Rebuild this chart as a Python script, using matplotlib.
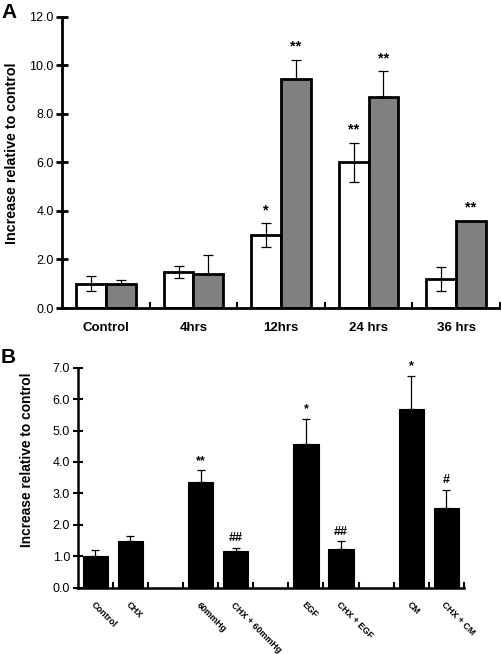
import matplotlib
matplotlib.use("Agg")
import matplotlib.pyplot as plt
import matplotlib.transforms as mtransforms
import numpy as np

plt.rcParams['font.family'] = ['Liberation Sans', 'DejaVu Sans']

# Panel A data
a_categories = ["Control", "4hrs", "12hrs", "24 hrs", "36 hrs"]
a_white = [1.0, 1.5, 3.0, 6.0, 1.2]
a_white_err = [0.3, 0.25, 0.5, 0.8, 0.5]
a_gray = [1.0, 1.4, 9.45, 8.7, 3.6]
a_gray_err = [0.15, 0.78, 0.77, 1.05, 0.0]
a_white_sig = ["", "", "*", "**", ""]
a_gray_sig = ["", "", "**", "**", "**"]
a_yticks = [0, 2, 4, 6, 8, 10, 12]

# Panel B data
b_categories = ["Control", "CHX", "60mmHg", "CHX + 60mmHg", "EGF", "CHX + EGF", "CM", "CHX + CM"]
b_values = [1.02, 1.47, 3.36, 1.17, 4.56, 1.22, 5.69, 2.55]
b_err = [0.18, 0.18, 0.37, 0.09, 0.82, 0.25, 1.05, 0.57]
b_sig = ["", "", "**", "##", "*", "##", "*", "#"]
b_slots = [0, 1, 3, 4, 6, 7, 9, 10]
b_yticks = [0, 1, 2, 3, 4, 5, 6, 7]

fig = plt.figure(figsize=(5.02, 6.54), dpi=100)

# ---------- Panel A ----------
axA = fig.add_axes([0.1235, 0.529, 0.8725, 0.4455])
x = np.arange(len(a_categories))
w = 0.34
axA.bar(x - w/2, a_white, w, color='white', edgecolor='black', linewidth=2.0, zorder=2)
axA.bar(x + w/2, a_gray, w, color='#808080', edgecolor='black', linewidth=2.0, zorder=2)
axA.errorbar(x - w/2, a_white, yerr=a_white_err, fmt='none', ecolor='black',
             elinewidth=0.9, capsize=3.5, capthick=0.9, zorder=3)
gx, gy, ge = [], [], []
for i in range(len(a_gray)):
    if a_gray_err[i] > 0:
        gx.append(x[i] + w/2); gy.append(a_gray[i]); ge.append(a_gray_err[i])
axA.errorbar(gx, gy, yerr=[np.zeros(len(ge)), ge], fmt='none', ecolor='black',
             elinewidth=0.9, capsize=3.5, capthick=0.9, zorder=3)
for i in range(len(a_categories)):
    if a_white_sig[i]:
        axA.text(x[i] - w/2, a_white[i] + a_white_err[i] + 0.25, a_white_sig[i],
                 ha='center', va='bottom', fontsize=10.5, fontweight='bold')
    if a_gray_sig[i]:
        axA.text(x[i] + w/2, a_gray[i] + a_gray_err[i] + 0.25, a_gray_sig[i],
                 ha='center', va='bottom', fontsize=10.5, fontweight='bold')
axA.set_xlim(-0.5, len(a_categories) - 0.5)
axA.set_ylim(0, 12)
axA.set_yticks(a_yticks)
axA.set_yticklabels([f"{v:.1f}" for v in a_yticks], fontsize=9)
axA.set_xticks(x)
axA.set_xticklabels(a_categories, fontsize=9.5, fontweight='bold')
axA.tick_params(axis='x', length=0, pad=10)
axA.set_xticks(np.arange(len(a_categories)) + 0.5, minor=True)
axA.tick_params(axis='x', which='minor', direction='in', length=4, width=1.5)
axA.tick_params(axis='y', direction='inout', length=8, width=2, pad=2)
for s in ['top', 'right']:
    axA.spines[s].set_visible(False)
axA.spines['left'].set_linewidth(2)
axA.spines['bottom'].set_linewidth(2)
axA.set_ylabel("Increase relative to control", fontsize=10.3, fontweight='bold',
               va='center')
axA.yaxis.set_label_coords(-0.115, 0.532)
fig.text(0.002, 0.995, "A", fontsize=15, fontweight='bold', ha='left', va='top')

# ---------- Panel B ----------
axB = fig.add_axes([0.155, 0.1014, 0.769, 0.3364])
xb = np.array(b_slots)
wb = 0.72
axB.bar(xb, b_values, wb, color='black', edgecolor='black', linewidth=0.8, zorder=2)
axB.errorbar(xb, b_values, yerr=[np.zeros(len(b_err)), b_err], fmt='none', ecolor='black',
             elinewidth=0.9, capsize=3, capthick=0.9, zorder=3)
for i in range(len(b_categories)):
    if b_sig[i]:
        axB.text(xb[i], b_values[i] + b_err[i] + 0.12, b_sig[i], ha='center', va='bottom',
                 fontsize=9, fontweight='bold')
axB.set_xlim(-0.5, 10.5)
axB.set_ylim(0, 7)
axB.set_yticks(b_yticks)
axB.set_yticklabels([f"{v:.1f}" for v in b_yticks], fontsize=9)
axB.set_xticks(xb)
axB.set_xticklabels(b_categories, fontsize=6.5, fontweight='bold', rotation=-45,
                    ha='left', va='top', rotation_mode='anchor')
offset = mtransforms.ScaledTranslation(5/100, 0, fig.dpi_scale_trans)
for lab in axB.get_xticklabels():
    lab.set_transform(lab.get_transform() + offset)
axB.tick_params(axis='x', length=0, pad=9)
axB.set_xticks(np.arange(11) + 0.5, minor=True)
axB.tick_params(axis='x', which='minor', direction='in', length=4, width=1.5)
axB.tick_params(axis='y', direction='inout', length=7, width=1.5, pad=2)
for s in ['top', 'right']:
    axB.spines[s].set_visible(False)
axB.spines['left'].set_linewidth(1.8)
axB.spines['bottom'].set_linewidth(1.8)
axB.set_ylabel("Increase relative to control", fontsize=9.9, fontweight='bold',
               va='center')
axB.yaxis.set_label_coords(-0.132, 0.58)
fig.text(0.002, 0.468, "B", fontsize=15, fontweight='bold', ha='left', va='top')

fig.savefig("out.png", dpi=100)
